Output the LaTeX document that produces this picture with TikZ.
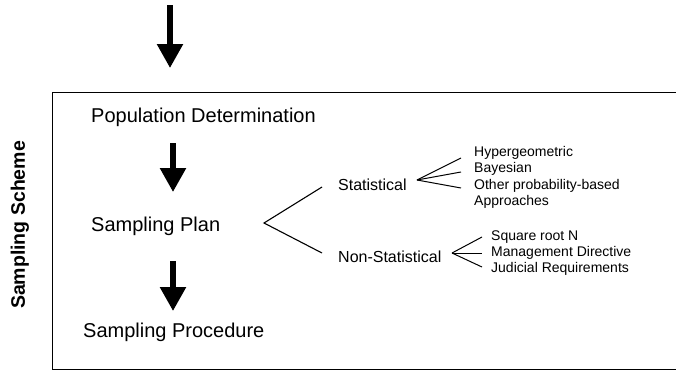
\documentclass[tikz,border=0pt]{standalone}
\usepackage{fontspec}
\setmainfont{Liberation Sans}
\usetikzlibrary{arrows.meta}
\begin{document}
\begin{tikzpicture}[x=1pt,y=-1pt,
  big/.style={font=\fontsize{20}{24}\selectfont, inner sep=0pt, anchor=west},
  mid/.style={font=\fontsize{16}{19}\selectfont, inner sep=0pt, anchor=west},
  small/.style={font=\fontsize{14}{16}\selectfont, inner sep=0pt, anchor=west},
  bigarrow/.style={line width=5.5pt, -{Triangle[width=25pt,length=24pt]}},
  branch/.style={line width=1.1pt},
  fan/.style={line width=1pt}]
\useasboundingbox (0,0) rectangle (676,370);
\clip (0,0) rectangle (676,370);
% frame
\node[draw, line width=1.4pt, minimum width=640pt, minimum height=277pt, anchor=north west, inner sep=0pt] (frame) at (52,92) {};
% side label
\node[font=\bfseries\fontsize{19.5}{23}\selectfont, rotate=90, inner sep=0pt] (scheme) at (20,225) {Sampling Scheme};
% main texts
\node[big] (pop) at (91,117) {Population Determination};
\node[big] (plan) at (91,226) {Sampling Plan};
\node[big] (proc) at (83,332) {Sampling Procedure};
\node[mid] (stat) at (338,185) {Statistical};
\node[mid] (nonstat) at (338,257) {Non-Statistical};
\node[small] (hyp) at (474,153) {Hypergeometric};
\node[small] (bay) at (474,169) {Bayesian};
\node[small] (oth) at (474,186) {Other probability-based};
\node[small] (appr) at (474,202) {Approaches};
\node[small] (sq) at (491,237) {Square root N};
\node[small] (mgmt) at (491,253) {Management Directive};
\node[small] (jud) at (491,269) {Judicial Requirements};
% arrows
\coordinate (a1s) at (170,5);   \coordinate (a1e) at (170,68);
\coordinate (a2s) at (173,143); \coordinate (a2e) at (173,192);
\coordinate (a3s) at (173,261); \coordinate (a3e) at (173,311);
\draw[bigarrow] (a1s) -- (a1e);
\draw[bigarrow] (a2s) -- (a2e);
\draw[bigarrow] (a3s) -- (a3e);
% main branch
\coordinate (bapex) at (264,223);
\coordinate (bup) at (322,187);
\coordinate (bdn) at (322,253);
\draw[branch] (bup) -- (bapex) -- (bdn);
% statistical fan
\coordinate (sapex) at (417,180);
\coordinate (s1) at (461,158);
\coordinate (s2) at (461,172);
\coordinate (s3) at (461,188);
\draw[fan] (sapex) -- (s1);
\draw[fan] (sapex) -- (s2);
\draw[fan] (sapex) -- (s3);
% non-statistical fan
\coordinate (napex) at (452,253);
\coordinate (n1) at (482,237);
\coordinate (n2) at (482,253);
\coordinate (n3) at (482,267);
\draw[fan] (napex) -- (n1);
\draw[fan] (napex) -- (n2);
\draw[fan] (napex) -- (n3);
\end{tikzpicture}
\end{document}
